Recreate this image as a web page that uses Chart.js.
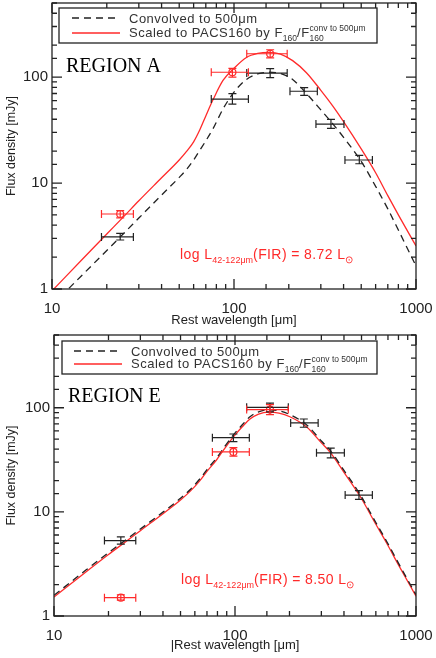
<!DOCTYPE html>
<html>
<head>
<meta charset="utf-8">
<script src="https://cdn.jsdelivr.net/npm/chart.js@4.4.0/dist/chart.umd.min.js"></script>
<style>
  body { margin: 0; background: #fff; }
  canvas { position: absolute; left: 0; }
  #chartA { top: 0; }
  #chartB { top: 330px; }
</style>
</head>
<body>
<canvas id="chartA" width="436" height="330"></canvas>
<canvas id="chartB" width="436" height="328"></canvas>
<script>
// ---- Region A: model curves (rest wavelength in micron, flux in mJy)
var wlA = [10, 12, 15, 20, 25, 30, 40, 50, 55, 60, 65, 70, 77, 87, 100, 117, 135, 155, 180, 210, 250, 300, 350, 400, 500, 600, 700, 800, 1000];
var convA = [0.70, 0.96, 1.41, 2.31, 3.4, 4.67, 7.7, 11.3, 13.5, 16.5, 20.5, 25, 33, 50, 72, 95, 107, 111, 108, 95, 70, 49, 36, 27, 16, 9.3, 5.7, 3.6, 1.65];
var scaledA = [0.96, 1.33, 1.98, 3.3, 4.9, 6.8, 11.2, 16.5, 20, 24.5, 32, 43, 62, 93, 121, 153, 167, 171, 165, 143, 110, 75, 53, 38, 21, 12.5, 7.6, 5.0, 2.55];

// ---- Region A: photometry
var obsWlA = [23.7, 98, 158, 243, 341, 488];
var obsWlLoA = [18.7, 75, 117.5, 203, 282, 407];
var obsWlHiA = [28, 120, 196, 287, 402, 576];
var obsConvA = [3.1, 62, 109, 73.5, 36, 16.5];
var obsConvLoA = [2.9, 55.5, 99, 67.3, 32.8, 15.2];
var obsConvHiA = [3.35, 69.8, 120, 79.5, 39.9, 18.2];
var obsScaledA = [5.1, 111, 166];
var obsScaledLoA = [4.7, 100, 152];
var obsScaledHiA = [5.5, 121, 181];

// ---- Region E: model curves
var wlE = [10, 12, 15, 20, 25, 30, 40, 50, 57, 64, 70, 79, 88, 98, 110, 121, 135, 153, 175, 201, 250, 300, 335, 400, 490, 600, 689, 800, 1000];
var convE = [1.58, 2.03, 2.76, 4.06, 5.4, 6.85, 9.95, 13.5, 16.6, 20.8, 25.5, 32.8, 42.8, 55, 69, 82, 91.5, 95.5, 93.5, 86, 68, 48, 39.2, 25, 14.8, 7.9, 5.2, 3.22, 1.6];
var scaledE = [1.52, 1.95, 2.65, 3.9, 5.2, 6.6, 9.6, 13, 16, 20, 24.5, 31.5, 41, 52.5, 66, 78, 87, 91, 89, 82, 65, 46, 37.5, 24, 14.2, 7.6, 5.0, 3.1, 1.55];

// ---- Region E: photometry
var obsWlE = [23.4, 98, 156, 240, 338, 484];
var obsWlLoE = [19, 75, 116, 203, 282, 406];
var obsWlHiE = [28.3, 120, 197, 288, 402, 574];
var obsConvE = [5.3, 51.6, 101, 71.5, 36.9, 14.5];
var obsConvLoE = [4.9, 47.4, 91.5, 65, 33, 13.2];
var obsConvHiE = [5.75, 56, 111, 78, 41, 16];
var obsScaledE = [1.5, 37.7, 96];
var obsScaledLoE = [1.42, 34.3, 86];
var obsScaledHiE = [1.6, 41.5, 107];

var RED = '#ff2a2a';
var INK = '#222';
var SANS = '"Liberation Sans", Arial, sans-serif';
var SERIF = '"Liberation Serif", "Times New Roman", serif';

Chart.defaults.font.family = SANS;
Chart.defaults.color = INK;

function pts(xs, ys) {
  return xs.map(function (x, i) { return { x: x, y: ys[i] }; });
}

function isDecade(v) {
  var l = Math.log10(v);
  return Math.abs(l - Math.round(l)) < 1e-6;
}

// draw a run of text pieces: [text, size, dy, spacing] or {sup, sub, size}
function richText(ctx, x, y, parts) {
  ctx.textAlign = 'left';
  ctx.textBaseline = 'alphabetic';
  parts.forEach(function (p) {
    if (Array.isArray(p)) {
      ctx.font = p[1] + 'px ' + SANS;
      ctx.letterSpacing = (p[3] || 0) + 'px';
      ctx.fillText(p[0], x, y + p[2]);
      x += ctx.measureText(p[0]).width;
    } else {
      ctx.font = p.size + 'px ' + SANS;
      ctx.letterSpacing = '0px';
      ctx.fillText(p.sup, x, y - 6);
      ctx.fillText(p.sub, x, y + 4);
      x += Math.max(ctx.measureText(p.sup).width, ctx.measureText(p.sub).width);
    }
  });
  ctx.letterSpacing = '0px';
}

var sedDecor = {
  id: 'sedDecor',
  afterDatasetsDraw: function (chart, args, o) {
    var ctx = chart.ctx, a = chart.chartArea;
    var xs = chart.scales.x, ys = chart.scales.y;
    ctx.save();

    // error bars
    ctx.lineWidth = 1.2;
    chart.data.datasets.forEach(function (ds) {
      if (!ds.err) return;
      var e = ds.err;
      ctx.strokeStyle = ds.errColor;
      ctx.beginPath();
      ds.data.forEach(function (p, i) {
        var x = xs.getPixelForValue(p.x), y = ys.getPixelForValue(p.y);
        var x0 = xs.getPixelForValue(e.xlo[i]), x1 = xs.getPixelForValue(e.xhi[i]);
        var y0 = ys.getPixelForValue(e.ylo[i]), y1 = ys.getPixelForValue(e.yhi[i]);
        ctx.moveTo(x0, y); ctx.lineTo(x1, y);
        ctx.moveTo(x0, y - 4); ctx.lineTo(x0, y + 4);
        ctx.moveTo(x1, y - 4); ctx.lineTo(x1, y + 4);
        ctx.moveTo(x, y0); ctx.lineTo(x, y1);
        ctx.moveTo(x - 4, y0); ctx.lineTo(x + 4, y0);
        ctx.moveTo(x - 4, y1); ctx.lineTo(x + 4, y1);
      });
      ctx.stroke();
    });

    // frame and inward ticks on all four sides
    ctx.strokeStyle = INK;
    ctx.lineWidth = 1.3;
    ctx.beginPath();
    xs.ticks.forEach(function (t) {
      var p = xs.getPixelForValue(t.value);
      var len = isDecade(t.value) ? 10 : 5;
      ctx.moveTo(p, a.bottom); ctx.lineTo(p, a.bottom - len);
      ctx.moveTo(p, a.top); ctx.lineTo(p, a.top + len);
    });
    ys.ticks.forEach(function (t) {
      var p = ys.getPixelForValue(t.value);
      var len = isDecade(t.value) ? 10 : 5;
      ctx.moveTo(a.left, p); ctx.lineTo(a.left + len, p);
      ctx.moveTo(a.right, p); ctx.lineTo(a.right - len, p);
    });
    ctx.stroke();
    ctx.strokeRect(a.left, a.top, a.right - a.left, a.bottom - a.top);

    // legend box
    var L = o.legend;
    ctx.lineWidth = 1.3;
    ctx.strokeRect(L.x, L.y, L.w, L.h);
    ctx.beginPath();
    ctx.setLineDash([7, 5]);
    ctx.strokeStyle = INK;
    ctx.moveTo(L.lx0, L.y1); ctx.lineTo(L.lx1, L.y1);
    ctx.stroke();
    ctx.setLineDash([]);
    ctx.beginPath();
    ctx.strokeStyle = RED;
    ctx.moveTo(L.lx0, L.y2); ctx.lineTo(L.lx1, L.y2);
    ctx.stroke();
    ctx.fillStyle = '#333';
    richText(ctx, L.tx, L.y1 + 5, [['Convolved to 500\u03bcm', 13, 0, 0.5]]);
    richText(ctx, L.tx, L.y2 + 4, [
      ['Scaled to PACS160 by F', 13, 0, 0.5], ['160', 8.5, 4], ['/F', 13, 0, 0.5],
      { sup: 'conv to 500\u03bcm', sub: '160', size: 8.5 }
    ]);

    // region label
    ctx.fillStyle = '#000';
    ctx.font = '20px ' + SERIF;
    ctx.textAlign = 'left';
    ctx.fillText(o.region, o.rx, o.ry);

    // luminosity note
    ctx.fillStyle = RED;
    richText(ctx, o.nx, o.ny, [
      ['log L', 14, 0, 0.4], ['42-122\u03bcm', 9, 4], ['(FIR) = ' + o.lum + ' L', 14, 0, 0.4], ['\u2299', 10, 4]
    ]);
    ctx.restore();
  }
};

function makeChart(id, c) {
  var logTicks = function (v) { return isDecade(v) ? String(v) : ''; };
  var noPad = function (s) { s.paddingLeft = s.paddingRight = s.paddingTop = s.paddingBottom = 0; };
  return new Chart(document.getElementById(id), {
    type: 'scatter',
    data: {
      datasets: [
        {
          data: pts(c.wl, c.conv), showLine: true, pointRadius: 0,
          borderColor: INK, borderWidth: 1.3, borderDash: [7, 5],
          cubicInterpolationMode: 'monotone'
        },
        {
          data: pts(c.wl, c.scaled), showLine: true, pointRadius: 0,
          borderColor: RED, borderWidth: 1.3,
          cubicInterpolationMode: 'monotone'
        },
        {
          data: pts(c.obsWl, c.obsConv), pointRadius: 0, errColor: INK,
          err: { xlo: c.wlLo, xhi: c.wlHi, ylo: c.convLo, yhi: c.convHi }
        },
        {
          data: pts(c.obsWl.slice(0, 3), c.obsScaled), pointRadius: 3.5, pointStyle: 'circle',
          borderColor: RED, backgroundColor: 'rgba(0,0,0,0)', borderWidth: 1.2, errColor: RED,
          err: { xlo: c.wlLo, xhi: c.wlHi, ylo: c.scaledLo, yhi: c.scaledHi }
        }
      ]
    },
    options: {
      responsive: false,
      animation: false,
      layout: { autoPadding: false, padding: { top: c.padTop, right: 20, left: 0, bottom: 0 } },
      plugins: {
        legend: { display: false },
        tooltip: { enabled: false },
        sedDecor: c.decor
      },
      scales: {
        x: {
          type: 'logarithmic', min: 10, max: 1000,
          grid: { display: false, drawTicks: false }, border: { display: false },
          afterFit: function (s) { s.height = c.xH; noPad(s); },
          ticks: { autoSkip: false, maxRotation: 0, padding: 11, color: INK, font: { size: 15 }, callback: logTicks },
          title: { display: true, text: c.xTitle, color: INK, font: { size: 13 }, padding: { top: 0, bottom: c.xTitlePad } }
        },
        y: {
          type: 'logarithmic', min: 1, max: 500,
          grid: { display: false, drawTicks: false }, border: { display: false },
          afterFit: function (s) { s.width = c.yW; noPad(s); },
          ticks: { autoSkip: false, padding: 4, color: INK, font: { size: 15 }, callback: logTicks },
          title: { display: true, text: 'Flux density [mJy]', color: INK, font: { size: 12.5 }, padding: { top: 4.5, bottom: 0 } }
        }
      }
    },
    plugins: [sedDecor]
  });
}

makeChart('chartA', {
  wl: wlA, conv: convA, scaled: scaledA,
  obsWl: obsWlA, wlLo: obsWlLoA, wlHi: obsWlHiA,
  obsConv: obsConvA, convLo: obsConvLoA, convHi: obsConvHiA,
  obsScaled: obsScaledA, scaledLo: obsScaledLoA, scaledHi: obsScaledHiA,
  padTop: 3, xH: 41, yW: 52, xTitle: 'Rest wavelength [\u03bcm]', xTitlePad: 2,
  decor: {
    legend: { x: 59, y: 8, w: 318, h: 35, lx0: 72, lx1: 120, tx: 129, y1: 18, y2: 33 },
    region: 'REGION A', rx: 66, ry: 72,
    nx: 180, ny: 259, lum: '8.72'
  }
});

makeChart('chartB', {
  wl: wlE, conv: convE, scaled: scaledE,
  obsWl: obsWlE, wlLo: obsWlLoE, wlHi: obsWlHiE,
  obsConv: obsConvE, convLo: obsConvLoE, convHi: obsConvHiE,
  obsScaled: obsScaledE, scaledLo: obsScaledLoE, scaledHi: obsScaledHiE,
  padTop: 5, xH: 42, yW: 54, xTitle: '|Rest wavelength [\u03bcm]', xTitlePad: 5,
  decor: {
    legend: { x: 62, y: 11, w: 315, h: 33, lx0: 74, lx1: 122, tx: 131, y1: 21, y2: 34 },
    region: 'REGION E', rx: 68, ry: 72,
    nx: 181, ny: 254, lum: '8.50'
  }
});
</script>
</body>
</html>
